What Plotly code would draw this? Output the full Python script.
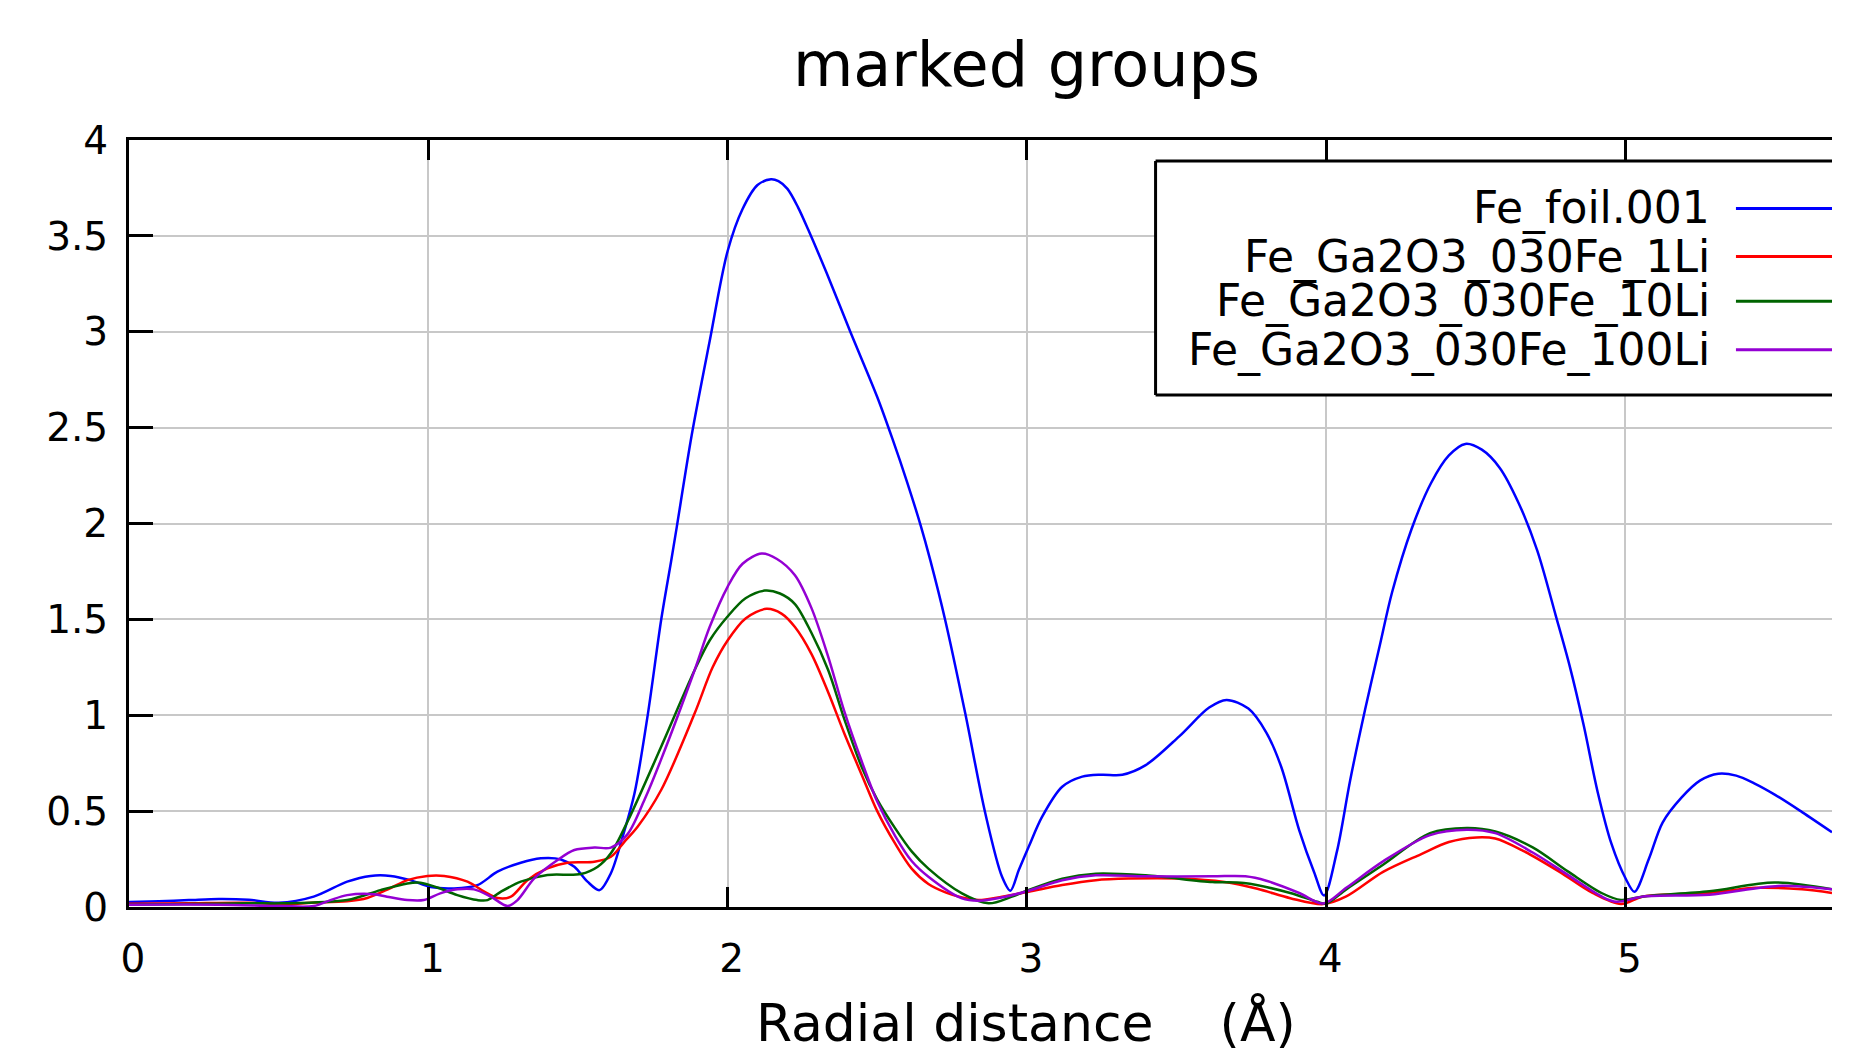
import plotly.graph_objects as go

# ---------------- data ----------------
fe_foil_x = [0.00, 0.10, 0.20, 0.30, 0.40, 0.50, 0.617, 0.729, 0.807, 0.874, 0.94, 1.008, 1.086,
             1.164, 1.231, 1.309, 1.376, 1.443, 1.488, 1.532, 1.572, 1.61, 1.65, 1.689, 1.734,
             1.778, 1.812, 1.83, 1.88, 1.94, 2.00, 2.05, 2.10, 2.145, 2.17, 2.20, 2.235, 2.27, 2.33,
             2.41, 2.50, 2.55, 2.60, 2.645, 2.677, 2.727, 2.794, 2.861, 2.917, 2.945, 2.973, 3.006,
             3.051, 3.118, 3.185, 3.25, 3.319, 3.397, 3.509, 3.609, 3.667, 3.74, 3.80, 3.85,
             3.91, 3.96, 3.993, 4.036, 4.08, 4.13, 4.18, 4.22, 4.285, 4.35, 4.41, 4.465, 4.52,
             4.58, 4.642, 4.705, 4.767, 4.813, 4.86, 4.907, 4.953, 5.00, 5.03, 5.078, 5.124,
             5.187, 5.25, 5.31, 5.37, 5.43, 5.50, 5.59, 5.69]
fe_foil_y = [0.026, 0.030, 0.036, 0.042, 0.038, 0.022, 0.054, 0.132, 0.162, 0.162, 0.140, 0.104, 0.097,
             0.114, 0.184, 0.231, 0.254, 0.248, 0.210, 0.132, 0.088, 0.176, 0.370, 0.593, 1.010,
             1.497, 1.810, 1.980, 2.460, 2.950, 3.420, 3.640, 3.765, 3.795, 3.785, 3.745, 3.650, 3.530,
             3.310, 3.000, 2.660, 2.445, 2.215, 1.990, 1.810, 1.497, 1.010, 0.489, 0.158, 0.085, 0.193,
             0.314, 0.471, 0.627, 0.680, 0.690, 0.690, 0.740, 0.890, 1.040, 1.080, 1.035, 0.910, 0.730,
             0.400, 0.180, 0.060, 0.290, 0.660, 1.030, 1.370, 1.640, 1.970, 2.210, 2.355, 2.415, 2.385,
             2.290, 2.110, 1.860, 1.520, 1.260, 0.950, 0.600, 0.330, 0.150, 0.080, 0.250, 0.440,
             0.570, 0.660, 0.695, 0.685, 0.645, 0.585, 0.495, 0.390]

li1_x = [0.00, 0.20, 0.40, 0.506, 0.61, 0.729, 0.796, 0.874, 0.93, 0.997, 1.053, 1.131, 1.187,
         1.231, 1.276, 1.331, 1.398, 1.465, 1.555, 1.61, 1.655, 1.70, 1.778, 1.89, 1.95, 2.00, 2.06,
         2.13, 2.18, 2.225, 2.28, 2.336, 2.39, 2.448, 2.50, 2.56, 2.615, 2.671, 2.73, 2.783, 2.839,
         2.917, 3.006, 3.118, 3.23, 3.34, 3.51, 3.66, 3.77, 3.88, 3.99, 4.067, 4.19, 4.316, 4.41,
         4.502, 4.565, 4.658, 4.78, 4.89, 4.985, 5.06, 5.28, 5.435, 5.59, 5.69]
li1_y = [0.017, 0.020, 0.022, 0.014, 0.022, 0.030, 0.047, 0.099, 0.140, 0.162, 0.162, 0.132, 0.080,
         0.047, 0.054, 0.140, 0.201, 0.231, 0.236, 0.262, 0.340, 0.420, 0.610, 1.010, 1.250, 1.390,
         1.505, 1.555, 1.530, 1.460, 1.320, 1.120, 0.905, 0.690, 0.500, 0.330, 0.200, 0.120, 0.075,
         0.050, 0.037, 0.054, 0.080, 0.115, 0.140, 0.148, 0.148, 0.130, 0.095, 0.046, 0.015, 0.055,
         0.183, 0.275, 0.339, 0.363, 0.357, 0.293, 0.183, 0.073, 0.015, 0.055, 0.073, 0.100, 0.092,
         0.073]

li10_x = [0.00, 0.20, 0.40, 0.506, 0.729, 0.84, 0.93, 0.974, 1.03, 1.097, 1.164, 1.198, 1.243,
          1.309, 1.398, 1.51, 1.566, 1.61, 1.667, 1.778, 1.89, 1.94, 2.00, 2.06, 2.124, 2.175,
          2.225, 2.28, 2.336, 2.39, 2.448, 2.50, 2.56, 2.615, 2.671, 2.783, 2.872, 2.95, 3.006,
          3.118, 3.23, 3.397, 3.62, 3.725, 3.88, 3.97, 4.00, 4.067, 4.19, 4.347, 4.47, 4.565, 4.69,
          4.81, 4.92, 4.985, 5.06, 5.28, 5.497, 5.69]
li10_y = [0.012, 0.015, 0.020, 0.019, 0.036, 0.088, 0.123, 0.127, 0.102, 0.062, 0.036, 0.036, 0.080,
          0.132, 0.167, 0.172, 0.210, 0.280, 0.450, 0.836, 1.236, 1.390, 1.515, 1.610, 1.650, 1.635,
          1.580, 1.430, 1.236, 0.980, 0.730, 0.560, 0.410, 0.290, 0.200, 0.071, 0.019, 0.054, 0.089,
          0.148, 0.174, 0.165, 0.130, 0.125, 0.073, 0.027, 0.018, 0.092, 0.220, 0.385, 0.412, 0.394,
          0.311, 0.183, 0.073, 0.037, 0.055, 0.082, 0.128, 0.092]

li100_x = [0.00, 0.30, 0.506, 0.617, 0.673, 0.729, 0.818, 0.862, 0.93, 0.985, 1.04, 1.097, 1.153,
           1.209, 1.265, 1.298, 1.354, 1.432, 1.488, 1.555, 1.61, 1.666, 1.722, 1.778, 1.89, 1.94,
           2.00, 2.05, 2.114, 2.165, 2.225, 2.28, 2.336, 2.39, 2.448, 2.50, 2.56, 2.615, 2.671,
           2.783, 2.839, 2.928, 3.006, 3.118, 3.23, 3.397, 3.62, 3.73, 3.80, 3.91, 3.99, 4.067,
           4.19, 4.347, 4.47, 4.565, 4.69, 4.81, 4.92, 4.97, 5.06, 5.28, 5.51, 5.69]
li100_y = [0.012, 0.012, 0.005, 0.005, 0.036, 0.062, 0.067, 0.054, 0.036, 0.036, 0.071, 0.092, 0.092,
           0.054, 0.005, 0.036, 0.149, 0.245, 0.297, 0.310, 0.310, 0.380, 0.558, 0.770, 1.236, 1.460,
           1.670, 1.790, 1.843, 1.815, 1.730, 1.560, 1.306, 1.020, 0.760, 0.550, 0.370, 0.240, 0.158,
           0.045, 0.033, 0.054, 0.085, 0.140, 0.165, 0.160, 0.160, 0.160, 0.137, 0.073, 0.018, 0.100,
           0.238, 0.375, 0.403, 0.385, 0.284, 0.165, 0.055, 0.027, 0.055, 0.064, 0.110, 0.092]

series_names = ["Fe_foil.001", "Fe_Ga2O3_030Fe_1Li", "Fe_Ga2O3_030Fe_10Li", "Fe_Ga2O3_030Fe_100Li"]
series_colors = ["#0000ff", "#ff0000", "#006400", "#9400d3"]
series_x = [fe_foil_x, li1_x, li10_x, li100_x]
series_y = [fe_foil_y, li1_y, li10_y, li100_y]

x_tick_vals = [0, 1, 2, 3, 4, 5]
x_tick_text = ["0", "1", "2", "3", "4", "5"]
y_tick_vals = [0, 0.5, 1, 1.5, 2, 2.5, 3, 3.5, 4]
y_tick_text = ["0", "0.5", "1", "1.5", "2", "2.5", "3", "3.5", "4"]

title_text = "marked groups"
x_title_text = "Radial distance\u00a0\u00a0\u00a0\u00a0(\u00c5)"

# ---------------- figure ----------------
FONT = "DejaVu Sans"
W, H = 1876, 1052

fig = go.Figure()
for name, xs, ys, col in zip(series_names, series_x, series_y, series_colors):
    fig.add_trace(go.Scatter(x=xs, y=ys, mode="lines", name=name, showlegend=False,
                             line=dict(color=col, width=2.5, shape="spline", smoothing=0.9)))

axis_common = dict(showgrid=True, gridcolor="#c8c8c8", gridwidth=2, showline=True,
                   linecolor="black", linewidth=3, ticks="inside", tickwidth=3,
                   tickcolor="black", zeroline=False,
                   tickfont=dict(family=FONT, size=39, color="black"))

fig.update_xaxes(range=[0, 5.69], tickmode="array", tickvals=x_tick_vals, ticktext=x_tick_text,
                 mirror="ticks", ticklen=20, ticklabelstandoff=15, ticklabelshift=4, **axis_common)
fig.update_yaxes(range=[0, 4], tickmode="array", tickvals=y_tick_vals, ticktext=y_tick_text,
                 mirror=False, ticklen=24, ticklabelstandoff=10, **axis_common)

# custom legend (text left of the line sample, box clipped at the right edge)
box_x0, box_x1, box_y0, box_y1 = 0.6028, 1.0, 0.6675, 0.9726
row_y = [0.9108, 0.848, 0.7897, 0.7265]
text_x, line_x0 = 0.9295, 0.9436

shapes = [dict(type="rect", xref="paper", yref="paper", x0=box_x0, x1=box_x1, y0=box_y0, y1=box_y1,
               fillcolor="white", line=dict(width=0), layer="above")]
for (a, b, c, d) in [(box_x0, box_y1, box_x1, box_y1), (box_x0, box_y0, box_x1, box_y0),
                     (box_x0, box_y0, box_x0, box_y1)]:
    shapes.append(dict(type="line", xref="paper", yref="paper", x0=a, y0=b, x1=c, y1=d,
                       line=dict(color="black", width=3), layer="above"))
annotations = []
for name, col, yy in zip(series_names, series_colors, row_y):
    shapes.append(dict(type="line", xref="paper", yref="paper", x0=line_x0, x1=1.0, y0=yy, y1=yy,
                       line=dict(color=col, width=3), layer="above"))
    annotations.append(dict(text=name, xref="paper", yref="paper", x=text_x, y=yy,
                            xanchor="right", yanchor="middle", showarrow=False,
                            font=dict(family=FONT, size=44, color="black")))

annotations.append(dict(text=x_title_text, xref="paper", yref="paper", x=0.5267, y=-0.150,
                        xanchor="center", yanchor="middle", showarrow=False,
                        font=dict(family=FONT, size=52, color="black")))

fig.update_layout(
    width=W, height=H,
    margin=dict(l=129, r=44, t=140, b=145, pad=0),
    paper_bgcolor="white", plot_bgcolor="white",
    title=dict(text=title_text, x=0.5472, xanchor="center", y=0.9392, yanchor="middle",
               xref="container", yref="container",
               font=dict(family=FONT, size=62, color="black")),
    shapes=shapes, annotations=annotations, showlegend=False,
)

fig.write_html("out.html", config={"displayModeBar": False},
               post_script="document.body.style.margin='0';document.body.style.overflow='hidden';")
